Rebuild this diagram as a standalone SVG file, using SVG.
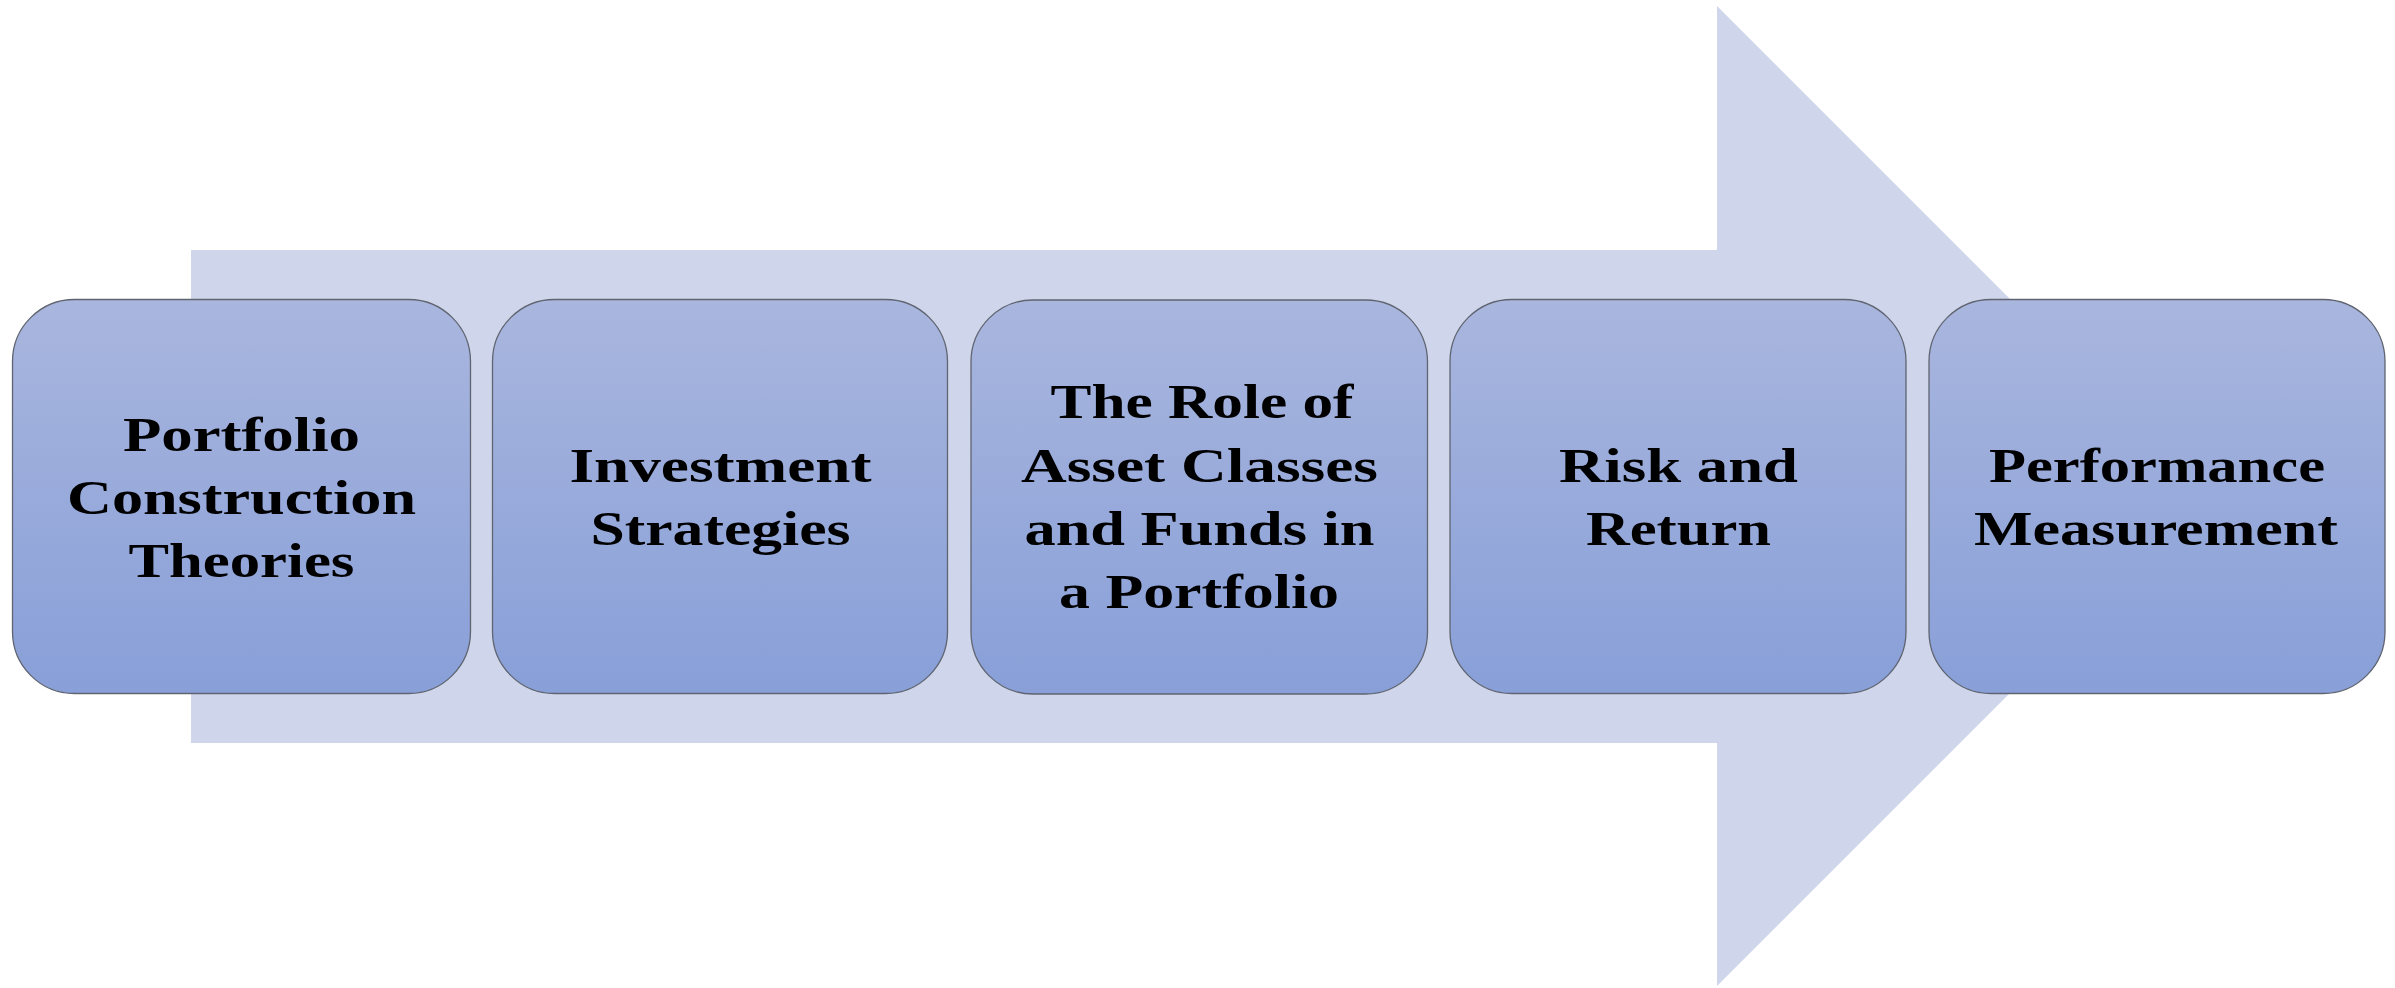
<svg xmlns="http://www.w3.org/2000/svg" width="2395" height="988" viewBox="0 0 2395 988">
  <defs>
    <linearGradient id="boxGrad" x1="0" y1="0" x2="0" y2="1">
      <stop offset="0" stop-color="#A9B6DE"/>
      <stop offset="1" stop-color="#889FD8"/>
    </linearGradient>
    <style>
      .box { fill: url(#boxGrad); stroke: #5F6470; stroke-width: 1.3; }
      .lbl { font-family: "Liberation Serif", "Times New Roman", serif; font-weight: bold; font-size: 48px; fill: #000; text-anchor: middle; }
    </style>
  </defs>
  <rect width="2395" height="988" fill="#FFFFFF"/>
  <g id="connectors">
    <polygon points="191,250 1717,250 1717,6 2207,496 1717,986 1717,743 191,743" fill="#CFD6EB"/>
  </g>
  <g id="node1">
    <rect class="box" x="12.5" y="299.5" width="458" height="394" rx="62" ry="62"/>
    <text class="lbl" x="241.5" y="451" textLength="237" lengthAdjust="spacingAndGlyphs">Portfolio</text>
    <text class="lbl" x="241.5" y="514" textLength="349" lengthAdjust="spacingAndGlyphs">Construction</text>
    <text class="lbl" x="241.5" y="577" textLength="226" lengthAdjust="spacingAndGlyphs">Theories</text>
  </g>
  <g id="node2">
    <rect class="box" x="492.5" y="299.5" width="455" height="394" rx="62" ry="62"/>
    <text class="lbl" x="720.5" y="482" textLength="302" lengthAdjust="spacingAndGlyphs">Investment</text>
    <text class="lbl" x="720.5" y="545" textLength="260" lengthAdjust="spacingAndGlyphs">Strategies</text>
  </g>
  <g id="node3">
    <rect class="box" x="971" y="300" width="456.5" height="394" rx="62" ry="62"/>
    <text class="lbl" x="1202" y="418" textLength="303" lengthAdjust="spacingAndGlyphs">The Role of</text>
    <text class="lbl" x="1199.5" y="482" textLength="357" lengthAdjust="spacingAndGlyphs">Asset Classes</text>
    <text class="lbl" x="1199.5" y="545" textLength="350" lengthAdjust="spacingAndGlyphs">and Funds in</text>
    <text class="lbl" x="1199" y="608" textLength="280" lengthAdjust="spacingAndGlyphs">a Portfolio</text>
  </g>
  <g id="node4">
    <rect class="box" x="1450" y="299.5" width="456" height="394" rx="62" ry="62"/>
    <text class="lbl" x="1678.5" y="482" textLength="239" lengthAdjust="spacingAndGlyphs">Risk and</text>
    <text class="lbl" x="1678.5" y="545" textLength="185" lengthAdjust="spacingAndGlyphs">Return</text>
  </g>
  <g id="node5">
    <rect class="box" x="1929" y="299.5" width="456" height="394" rx="62" ry="62"/>
    <text class="lbl" x="2157" y="482" textLength="336" lengthAdjust="spacingAndGlyphs">Performance</text>
    <text class="lbl" x="2156" y="545" textLength="364" lengthAdjust="spacingAndGlyphs">Measurement</text>
  </g>
</svg>
